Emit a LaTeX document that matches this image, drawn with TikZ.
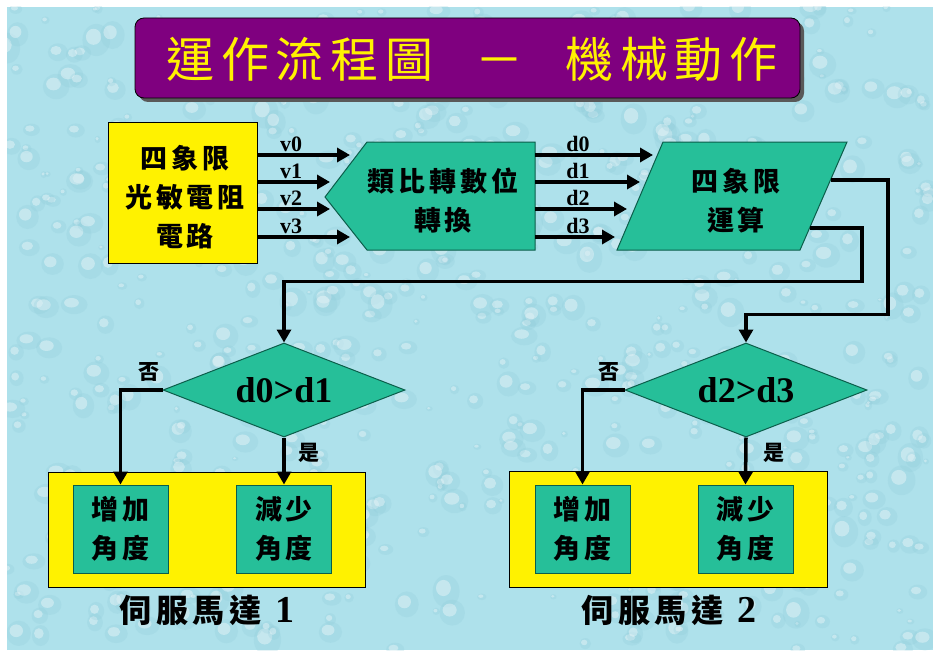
\documentclass[tikz,border=0pt]{standalone}
\usepackage{fontspec}
\setmainfont{Liberation Serif}
\newfontfamily\cjk{Noto Sans CJK TC}[LetterSpace=14]
\newfontfamily\cjkt{Noto Sans CJK TC}[LetterSpace=14]
\usetikzlibrary{shapes.geometric,arrows.meta,calc,shadows}
\definecolor{bgc}{HTML}{AEE1EB}
\definecolor{dropc}{HTML}{8CC9D8}
\definecolor{tealf}{HTML}{26BF99}
\definecolor{teald}{HTML}{0B5E4A}
\definecolor{titlep}{HTML}{7F007F}
\begin{document}
\begin{tikzpicture}[x=1pt,y=-1pt,
  ybox/.style={draw=black, line width=1pt, fill=yellow, inner sep=0pt},
  tbox/.style={draw=teald, line width=1pt, fill=tealf, inner sep=0pt},
  tshape/.style={draw=teald, line width=1pt, fill=tealf},
  cjktext/.style={font=\cjk\bfseries\fontsize{27}{39}\selectfont, align=center, inner sep=0pt},
  smallcjk/.style={font=\cjk\bfseries\fontsize{21}{21}\selectfont, inner sep=0pt},
  conn/.style={line width=3.5pt, draw=black},
  flow/.style={conn, -{Triangle[length=13pt,width=14pt]}},
  lab/.style={font=\bfseries\fontsize{22}{22}\selectfont, anchor=base, inner sep=0pt},
  cond/.style={diamond, tbox, minimum width=242pt, minimum height=94pt, aspect=2.6,
               font=\bfseries\fontsize{36}{36}\selectfont},
  motorlab/.style={font=\cjk\bfseries\fontsize{32}{32}\selectfont, inner sep=0pt}
]
\useasboundingbox (0,0) rectangle (933,650);
\fill[white] (0,0) rectangle (933,650);
% background with water drops
\begin{scope}
  \clip (7,7) rectangle (933,650);
  \fill[bgc] (7,7) rectangle (933,650);
  \pgfmathsetseed{11}
  \foreach \i in {1,...,700}{
    \pgfmathsetmacro\px{7+926*rnd}
    \pgfmathsetmacro\py{7+643*rnd}
    \pgfmathsetmacro\rr{3+11*rnd}
    \pgfmathsetmacro\ry{\rr*(0.7+0.5*rnd)}
    \fill[dropc, opacity=0.22] (\px,\py) ellipse [x radius=\rr, y radius=\ry];
    \fill[white, opacity=0.35] (\px-0.2*\rr,\py-0.2*\ry) ellipse [x radius=0.55*\rr, y radius=0.5*\ry];
  }
\end{scope}

% title
\node[draw=black, line width=0.8pt, fill=titlep, rounded corners=9pt,
      minimum width=665pt, minimum height=80pt, inner sep=0pt,
      drop shadow={shadow xshift=4pt, shadow yshift=-4pt, fill=black!65, opacity=1}]
      (titlebox) at (467.5,58) {};
\node[font=\cjkt\fontsize{48}{48}\selectfont, text=yellow, inner sep=0pt] (title) at (472,59)
  {運作流程圖\hspace{42pt}－\hspace{42pt}機械動作};

% input circuit
\node[ybox, minimum width=149pt, minimum height=141pt] (pin) at (182.5,193) {};
\node[cjktext] (pintext) at (185,197) {四象限\\光敏電阻\\電路};

% ADC
\draw[tshape] (325,197) -- (367,142) -- (535,142) -- (535,250) -- (367,250) -- cycle;
\node[cjktext] (adc) at (443,201) {類比轉數位\\轉換};
\coordinate (adcR) at (535,196);

% quadrant computation
\draw[tshape] (617,250) -- (663,142) -- (847,142) -- (800,250) -- cycle;
\node[cjktext] (quad) at (736,201) {四象限\\運算};
\coordinate (qA) at (831,180);
\coordinate (qB) at (810,228);

% v arrows
\coordinate (v0e) at (350,155);
\coordinate (v1e) at (330,182);
\coordinate (v2e) at (330,209);
\coordinate (v3e) at (350,237);
\draw[flow] (pin.east |- v0e) -- (v0e);
\draw[flow] (pin.east |- v1e) -- (v1e);
\draw[flow] (pin.east |- v2e) -- (v2e);
\draw[flow] (pin.east |- v3e) -- (v3e);
\node[lab] (lv0) at (291,151) {v0};
\node[lab] (lv1) at (291,178) {v1};
\node[lab] (lv2) at (291,205) {v2};
\node[lab] (lv3) at (291,233) {v3};

% d arrows
\coordinate (d0e) at (653,155);
\coordinate (d1e) at (640,182);
\coordinate (d2e) at (627,209);
\coordinate (d3e) at (615,237);
\draw[flow] (adcR |- d0e) -- (d0e);
\draw[flow] (adcR |- d1e) -- (d1e);
\draw[flow] (adcR |- d2e) -- (d2e);
\draw[flow] (adcR |- d3e) -- (d3e);
\node[lab] (ld0) at (578,151) {d0};
\node[lab] (ld1) at (578,178) {d1};
\node[lab] (ld2) at (578,205) {d2};
\node[lab] (ld3) at (578,233) {d3};

% decisions
\node[cond] (c1) at (284,390) {d0>d1};
\node[cond] (c2) at (746,390) {d2>d3};

% motors
\node[ybox, minimum width=317pt, minimum height=115pt] (m1) at (206.5,529.5) {};
\node[ybox, minimum width=318pt, minimum height=116pt] (m2) at (668,529) {};
\node[tbox, minimum width=95pt, minimum height=88pt, cjktext] (inc1) at (120.5,529) {增加\\角度};
\node[tbox, minimum width=95pt, minimum height=88pt, cjktext] (dec1) at (284,529) {減少\\角度};
\node[tbox, minimum width=95pt, minimum height=88pt, cjktext] (inc2) at (582.5,529) {增加\\角度};
\node[tbox, minimum width=95pt, minimum height=88pt, cjktext] (dec2) at (745.5,529) {減少\\角度};
\node[motorlab] (m1lab) at (207,610) {伺服馬達\hspace{14pt}{\rmfamily\fontsize{38}{38}\selectfont 1}};
\node[motorlab] (m2lab) at (669,610) {伺服馬達\hspace{14pt}{\rmfamily\fontsize{38}{38}\selectfont 2}};

% outputs of quadrant computation
\draw[flow] (qA) -- ++(57,0) |- ($(c2.north)+(0,-28)$) -- (c2.north);
\draw[flow] (qB) -- ++(52,0) |- ($(c1.north)+(0,-61)$) -- (c1.north);

% branches
\draw[flow] (c1.west) -| (inc1.north);
\draw[flow] (c1.south) -- (dec1.north);
\draw[flow] (c2.west) -| (inc2.north);
\draw[flow] (c2.south) -- (dec2.north);
\node[smallcjk] (no1) at (149,372) {否};
\node[smallcjk] (yes1) at (309,453) {是};
\node[smallcjk] (no2) at (609,372) {否};
\node[smallcjk] (yes2) at (774,453) {是};
\end{tikzpicture}
\end{document}
